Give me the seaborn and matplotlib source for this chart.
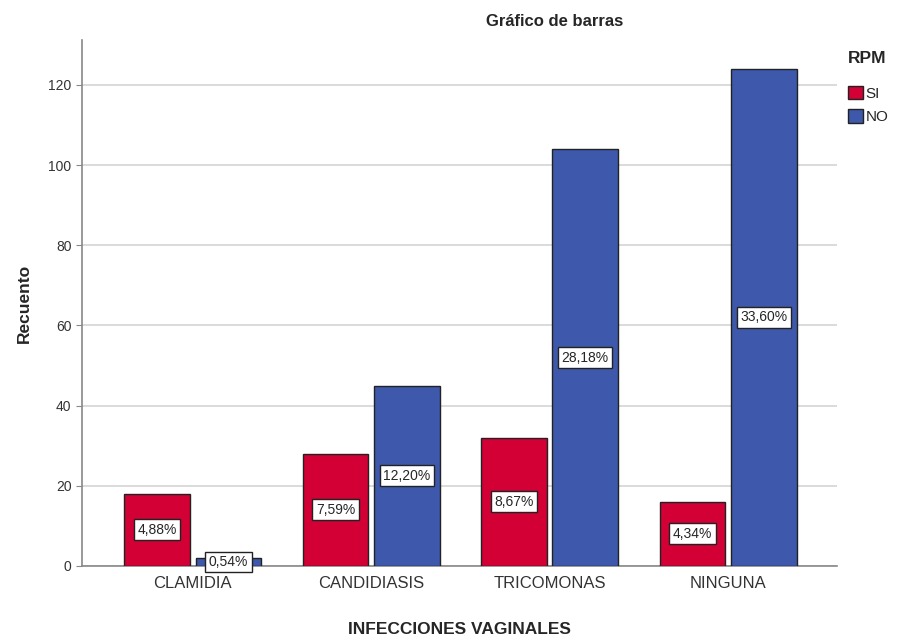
import numpy as np
import pandas as pd
import matplotlib
matplotlib.use('Agg')
import matplotlib.pyplot as plt
import seaborn as sns
from matplotlib.patches import Patch

# data
categorias = ['CLAMIDIA', 'CANDIDIASIS', 'TRICOMONAS', 'NINGUNA']
rpm_si = [18, 28, 32, 16]
rpm_no = [2, 45, 104, 124]
pct_si = ['4,88%', '7,59%', '8,67%', '4,34%']
pct_no = ['0,54%', '12,20%', '28,18%', '33,60%']
grupos = ['SI', 'NO']
colores = ['#D20034', '#3E58AC']

df = pd.DataFrame({
    'INFECCIONES VAGINALES': categorias * 2,
    'RPM': ['SI'] * 4 + ['NO'] * 4,
    'Recuento': rpm_si + rpm_no,
})

sns.set_style('white')
plt.rcParams['font.family'] = ['Liberation Sans', 'DejaVu Sans']

fig = plt.figure(figsize=(8.99, 6.42), dpi=100)
ax = fig.add_axes([0.0912, 0.1184, 0.8398, 0.8193])

sns.barplot(data=df, x='INFECCIONES VAGINALES', y='Recuento', hue='RPM',
            hue_order=grupos, palette=colores, width=0.8, gap=0.08,
            edgecolor='#222222', linewidth=1.0, saturation=1, ax=ax, zorder=3)

ax.set_ylim(0, 131.2)
ax.set_xlim(-0.62, 3.61)
ax.set_yticks([0, 20, 40, 60, 80, 100, 120])
ax.yaxis.grid(True, color='#d4d4d4', linewidth=1.2, zorder=0)
ax.set_axisbelow(True)
for s in ['top', 'right']:
    ax.spines[s].set_visible(False)
for s in ['left', 'bottom']:
    ax.spines[s].set_color('#888888')
    ax.spines[s].set_linewidth(1.2)
ax.tick_params(axis='y', left=True, length=4, color='#888888', labelsize=10, labelcolor='#333333')
ax.tick_params(axis='x', bottom=False, labelsize=12, labelcolor='#333333', pad=4)
ax.set_xlabel('INFECCIONES VAGINALES', fontsize=12.5, fontweight='bold', labelpad=22)
ax.set_ylabel('Recuento', fontsize=12.5, fontweight='bold', labelpad=12)

# percentage labels in white boxes
etiquetas = [pct_si, pct_no]
for cont, labs in zip(ax.containers, etiquetas):
    for bar, lab in zip(cont, labs):
        cx = bar.get_x() + bar.get_width() / 2
        cy = bar.get_height() / 2
        ax.text(cx, cy, lab, ha='center', va='center', fontsize=10, zorder=5,
                bbox=dict(boxstyle='square,pad=0.25', fc='white', ec='#222222', lw=1))

ax.get_legend().remove()
handles = [Patch(facecolor=c, edgecolor='#222222', label=g) for c, g in zip(colores, grupos)]
leg = fig.legend(handles=handles, title='RPM', loc='upper left',
                 bbox_to_anchor=(0.943, 0.92), frameon=False, fontsize=11,
                 title_fontproperties={'weight': 'bold', 'size': 12.5},
                 handlelength=1.0, handleheight=1.0, handletextpad=0.15,
                 labelspacing=0.55, borderaxespad=0, borderpad=0)
leg._legend_box.align = 'left'
leg._legend_box.sep = 14

fig.text(555 / 899, 1 - 22 / 642, 'Gráfico de barras', ha='center', va='center',
         fontsize=12, fontweight='bold')

fig.savefig('out.png', dpi=100)
